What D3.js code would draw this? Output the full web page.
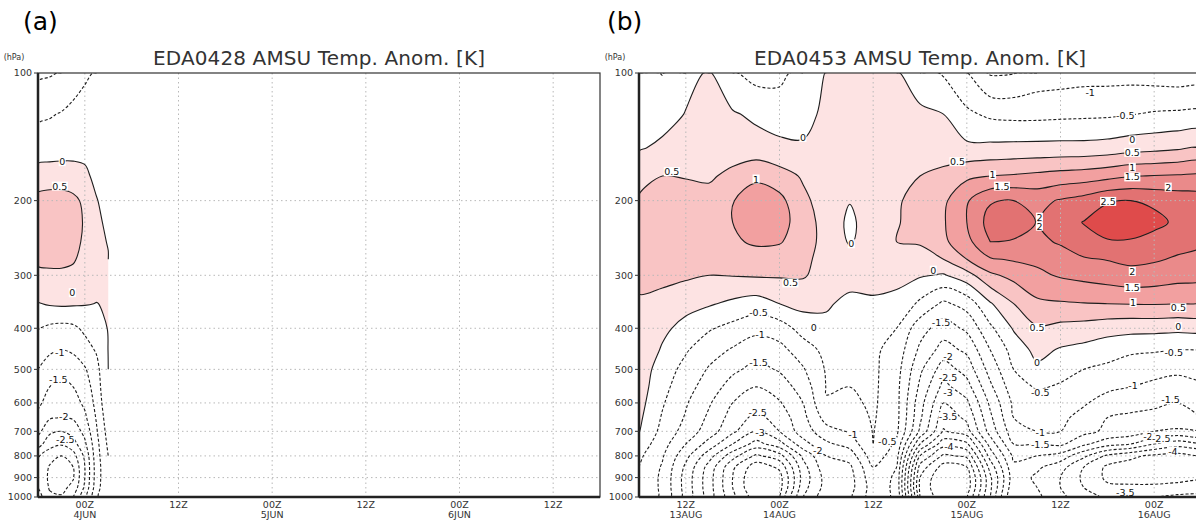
<!DOCTYPE html>
<html>
<head>
<meta charset="utf-8">
<script src="https://cdn.jsdelivr.net/npm/d3@7"></script>
<style>
body { margin: 0; background: #fff; }
svg { display: block; }
text { font-family: "DejaVu Sans", "Liberation Sans", sans-serif; }
</style>
</head>
<body>
<svg id="chart" width="1196" height="521"></svg>
<script>
'use strict';

// pressure levels (hPa) of the grid rows, top to bottom
const LEVELS = [100, 125, 150, 175, 200, 225, 250, 275, 300, 350, 400, 450, 500, 550, 600, 650, 700, 750, 800, 850, 900, 950, 1000];
const P_TICKS = [100, 200, 300, 400, 500, 600, 700, 800, 900, 1000];
const TICK_HOURS = [6, 18, 30, 42, 54, 66];

// shaded bands (value >= level) and contour levels
const FILL_LEVELS = [0, 0.5, 1, 1.5, 2, 2.5];
const FILL_COLORS = ['#fde3e3', '#f9c4c4', '#f2a0a0', '#ea8a8a', '#e27272', '#df4b4b'];
const LINE_LEVELS = [-6.5, -6, -5.5, -5, -4.5, -4, -3.5, -3, -2.5, -2, -1.5, -1, -0.5, 0, 0.5, 1, 1.5, 2, 2.5];

// ---- panel (a): hours after 18Z 3JUN
const A_HOURS = [0, 1.5, 3, 4.5, 6, 7.5, 9];
const A_FIELD = [
	[-1.1, -1.05, -0.97, -0.8, -0.6, -0.45, -0.35],
	[-0.6, -0.54, -0.47, -0.35, -0.25, -0.2, -0.15],
	[-0.25, -0.25, -0.22, -0.18, -0.12, -0.08, -0.05],
	[0.2, 0.25, 0.25, 0.2, 0.08, -0.1, -0.2],
	[0.65, 0.7, 0.7, 0.62, 0.4, 0.02, -0.15],
	[0.75, 0.8, 0.78, 0.7, 0.45, 0.1, -0.1],
	[0.75, 0.75, 0.72, 0.65, 0.42, 0.15, -0.03],
	[0.58, 0.6, 0.6, 0.55, 0.35, 0.2, 0.03],
	[0.4, 0.42, 0.42, 0.38, 0.28, 0.2, 0.1],
	[-0.03, 0.05, 0.08, 0.06, 0.03, -0.01, 0.05],
	[-0.48, -0.6, -0.65, -0.6, -0.4, -0.2, 0.02],
	[-0.8, -0.92, -1.0, -0.92, -0.7, -0.45, 0.01],
	[-1.0, -1.25, -1.4, -1.3, -1.05, -0.65, 0.0],
	[-1.2, -1.5, -1.6, -1.5, -1.25, -0.75, -0.02],
	[-1.4, -1.7, -1.8, -1.7, -1.4, -0.85, -0.08],
	[-1.65, -1.95, -2.02, -1.95, -1.6, -0.95, -0.2],
	[-1.85, -2.4, -2.5, -2.3, -1.85, -1.05, -0.3],
	[-2.3, -2.8, -2.95, -2.7, -2.1, -1.15, -0.4],
	[-2.95, -3.3, -3.5, -3.2, -2.4, -1.2, -0.5],
	[-3.05, -3.55, -3.7, -3.5, -2.5, -1.25, -0.55],
	[-3.1, -3.6, -3.75, -3.55, -2.5, -1.25, -0.55],
	[-3.0, -3.55, -3.65, -3.35, -2.4, -1.2, -0.55],
	[-2.8, -3.4, -3.45, -3.0, -2.2, -1.1, -0.5]
];
const A_TICK_LABELS = [['00Z', '4JUN'], ['12Z', ''], ['00Z', '5JUN'], ['12Z', ''], ['00Z', '6JUN'], ['12Z', '']];
// contour labels: [hour, hPa, text]
const A_LABELS = [
	[3.1, 162, '0'], [2.8, 185, '0.5'], [4.4, 330, '0'], [2.8, 457, '-1'],
	[2.6, 530, '-1.5'], [3.3, 647, '-2'], [3.5, 734, '-2.5']
];

// ---- panel (b): hours after 06Z 13AUG
const B_HOURS = [0, 3, 6, 9, 12, 15, 18, 21, 24, 27, 30, 33, 36, 39, 42, 45, 48, 51, 54, 57, 60, 63, 66, 69, 72];
const B_FIELD = [
	[-0.35, -0.52, -0.15, 0.05, -0.45, -0.68, -0.65, -0.3, 0.02, 0.15, 0.12, 0.05, -0.3, -0.55, -0.98, -1.55, -1.52, -1.3, -1.25, -1.2, -1.2, -1.2, -1.25, -1.3, -1.3],
	[-0.3, -0.2, 0.02, 0.1, 0.05, -0.1, -0.2, -0.15, 0.1, 0.2, 0.22, 0.2, 0.1, 0.0, -0.4, -0.6, -0.65, -0.65, -0.62, -0.6, -0.58, -0.52, -0.45, -0.42, -0.4],
	[-0.05, 0.1, 0.2, 0.25, 0.2, 0.2, 0.1, 0.05, 0.2, 0.28, 0.3, 0.3, 0.3, 0.2, 0.1, 0.12, 0.14, 0.15, 0.16, 0.16, 0.2, 0.3, 0.35, 0.42, 0.48],
	[0.35, 0.5, 0.48, 0.42, 0.65, 0.9, 0.7, 0.45, 0.3, 0.2, 0.25, 0.4, 0.5, 0.65, 0.9, 1.0, 1.05, 1.12, 1.2, 1.25, 1.35, 1.48, 1.52, 1.55, 1.57],
	[0.55, 0.6, 0.65, 0.7, 0.98, 1.25, 1.15, 0.6, 0.3, 0.02, 0.3, 0.45, 0.65, 0.9, 1.45, 1.95, 2.0, 1.85, 2.05, 2.2, 2.45, 2.5, 2.4, 2.3, 2.2],
	[0.65, 0.7, 0.75, 0.8, 1.0, 1.3, 1.2, 0.75, 0.3, -0.1, 0.25, 0.45, 0.75, 0.95, 1.5, 2.2, 2.3, 1.98, 2.3, 2.52, 2.8, 2.8, 2.65, 2.4, 2.3],
	[0.7, 0.7, 0.72, 0.78, 0.9, 1.1, 1.05, 0.7, 0.35, -0.05, 0.25, 0.5, 0.55, 0.9, 1.35, 2.0, 1.95, 1.9, 2.05, 2.35, 2.45, 2.45, 2.3, 2.15, 2.05],
	[0.65, 0.6, 0.6, 0.6, 0.65, 0.7, 0.7, 0.6, 0.35, 0.2, 0.25, 0.35, 0.3, 0.5, 1.0, 1.45, 1.55, 1.6, 1.8, 1.95, 2.02, 2.1, 2.05, 1.95, 1.9],
	[0.6, 0.62, 0.58, 0.5, 0.52, 0.55, 0.55, 0.55, 0.3, 0.15, 0.12, 0.1, 0.05, -0.05, 0.3, 0.9, 1.15, 1.4, 1.55, 1.65, 1.75, 1.85, 1.8, 1.7, 1.65],
	[0.45, 0.35, 0.15, 0.05, -0.1, -0.22, 0.0, 0.15, 0.05, -0.1, -0.05, -0.1, -0.6, -1.1, -0.8, -0.05, 0.5, 0.9, 0.95, 0.98, 1.0, 1.02, 1.03, 1.0, 0.95],
	[0.4, 0.1, -0.15, -0.45, -0.65, -0.85, -0.75, -0.3, -0.1, -0.3, -0.35, -0.5, -1.3, -1.75, -1.4, -0.6, 0.05, 0.45, 0.35, 0.3, 0.2, 0.15, 0.15, 0.12, 0.12],
	[0.35, -0.05, -0.45, -0.8, -1.05, -1.3, -1.15, -0.75, -0.35, -0.4, -0.4, -0.7, -1.6, -2.2, -1.9, -1.0, -0.3, 0.15, -0.05, -0.15, -0.3, -0.4, -0.45, -0.5, -0.5],
	[0.3, -0.25, -0.65, -1.05, -1.4, -1.65, -1.45, -1.05, -0.45, -0.45, -0.4, -0.8, -1.9, -2.75, -2.3, -1.3, -0.5, -0.1, -0.35, -0.5, -0.6, -0.8, -0.85, -0.9, -0.85],
	[0.25, -0.35, -0.8, -1.25, -1.7, -2.0, -1.75, -1.3, -0.48, -0.5, -0.4, -0.85, -2.1, -3.15, -2.7, -1.6, -0.7, -0.45, -0.55, -0.75, -0.9, -1.0, -1.1, -1.2, -1.1],
	[0.18, -0.45, -0.95, -1.45, -2.0, -2.35, -2.05, -1.5, -0.52, -0.6, -0.42, -0.85, -2.3, -3.5, -3.1, -1.9, -0.9, -0.7, -0.75, -0.95, -1.2, -1.3, -1.4, -1.5, -1.4],
	[0.1, -0.55, -1.05, -1.6, -2.2, -2.65, -2.3, -1.65, -0.8, -0.75, -0.45, -0.85, -2.4, -3.8, -3.4, -2.1, -1.0, -0.85, -0.9, -1.15, -1.5, -1.6, -1.65, -1.6, -1.5],
	[0.02, -0.65, -1.2, -1.75, -2.4, -3.0, -2.5, -1.75, -1.2, -0.95, -0.48, -0.9, -2.6, -4.05, -3.7, -2.3, -1.2, -1.0, -1.0, -1.35, -1.6, -1.7, -2.0, -2.1, -2.0],
	[-0.2, -0.8, -1.5, -2.2, -3.0, -3.7, -3.2, -2.2, -1.6, -1.3, -0.5, -1.1, -3.5, -4.8, -4.6, -2.8, -1.5, -1.5, -1.4, -1.9, -2.3, -2.5, -3.0, -3.3, -3.2],
	[-0.4, -0.95, -1.85, -2.8, -3.8, -4.6, -4.2, -2.9, -2.0, -1.8, -0.7, -1.3, -4.5, -5.6, -5.4, -3.3, -1.9, -2.0, -2.2, -2.9, -3.6, -3.9, -4.1, -4.2, -4.1],
	[-0.5, -1.05, -2.1, -3.2, -4.4, -5.3, -4.9, -3.2, -2.15, -2.1, -1.0, -1.5, -5.2, -6.2, -6.0, -3.8, -2.1, -2.4, -2.8, -3.5, -4.1, -4.2, -4.3, -4.3, -4.2],
	[-0.55, -1.1, -2.2, -3.3, -4.5, -5.5, -5.2, -3.3, -2.3, -2.2, -1.15, -1.6, -5.5, -6.5, -6.3, -4.1, -2.2, -2.6, -3.0, -3.6, -4.1, -4.2, -4.2, -4.2, -4.1],
	[-0.55, -1.1, -2.2, -3.3, -4.5, -5.5, -5.2, -3.2, -2.3, -2.2, -1.25, -1.6, -5.6, -6.5, -6.3, -4.1, -2.1, -2.5, -3.0, -3.5, -3.9, -3.9, -3.9, -3.8, -3.8],
	[-0.55, -1.1, -2.2, -3.3, -4.4, -5.3, -5.0, -3.0, -2.2, -2.1, -1.25, -1.6, -5.5, -6.4, -6.1, -4.0, -2.0, -2.4, -2.9, -3.3, -3.6, -3.5, -3.5, -3.4, -3.4]
];
const B_TICK_LABELS = [['12Z', '13AUG'], ['00Z', '14AUG'], ['12Z', ''], ['00Z', '15AUG'], ['12Z', ''], ['00Z', '16AUG']];
const B_LABELS = [
	[21.0, 142, '0'], [4.2, 171, '0.5'], [15, 178, '1'], [27.2, 253, '0'], [19.4, 313, '0.5'],
	[22.4, 399, '0'], [37.7, 292, '0'], [40.8, 162, '0.5'], [45.3, 174, '1'], [46.5, 185, '1.5'],
	[51.3, 219, '2'], [51.3, 230, '2'], [60.1, 201, '2.5'], [67.8, 186, '2'],
	[63.2, 144, '0'], [63.2, 154, '0.5'], [63.2, 167, '1'], [63.2, 176, '1.5'],
	[62.3, 126, '-0.5'], [57.8, 111, '-1'],
	[63.2, 294, '2'], [63.2, 321, '1.5'], [63.3, 348, '1'], [51, 399, '0.5'], [69.1, 358, '0.5'],
	[69.1, 397, '0'], [51, 481, '0'], [68.5, 457, '-0.5'], [51.4, 569, '-0.5'], [63.3, 545, '-1'],
	[68.1, 590, '-1.5'], [51.4, 706, '-1'], [51.4, 754, '-1.5'], [65.2, 720, '-2'], [66.9, 730, '-2.5'],
	[68.4, 780, '-4'], [62.3, 977, '-3.5'],
	[38.7, 389, '-1.5'], [39.6, 466, '-2'], [39.6, 523, '-2.5'], [39.6, 568, '-3'], [39.6, 647, '-3.5'], [39.7, 761, '-4'],
	[31.8, 741, '-0.5'], [27.4, 714, '-1'], [22.9, 779, '-2'],
	[15.3, 368, '-0.5'], [15.5, 415, '-1'], [15.3, 481, '-1.5'], [15.2, 631, '-2.5'], [15.5, 706, '-3']
];

const W = 562, TOP = 73, BOTTOM = 497;
const PANELS = [
	{ x0: 38, tagX: 23, tag: '(a)', title: 'EDA0428 AMSU Temp. Anom. [K]', hours: A_HOURS, field: A_FIELD, tickLabels: A_TICK_LABELS, labels: A_LABELS },
	{ x0: 639, tagX: 607, tag: '(b)', title: 'EDA0453 AMSU Temp. Anom. [K]', hours: B_HOURS, field: B_FIELD, tickLabels: B_TICK_LABELS, labels: B_LABELS }
];

const svg = d3.select('#chart');
const closedCurve = d3.line().curve(d3.curveCatmullRomClosed.alpha(0.5));
const openCurve = d3.line().curve(d3.curveCatmullRom.alpha(0.5));

function dedupe(pts) {
	return pts.filter((p, i) => i === 0 || Math.abs(p[0] - pts[i - 1][0]) > 0.01 || Math.abs(p[1] - pts[i - 1][1]) > 0.01);
}

// split a contour ring into runs that skip the grid border
function ringRuns(ring, dx, dy) {
	let pts = ring.slice();
	let f = pts[0], l = pts[pts.length - 1];
	if (f[0] === l[0] && f[1] === l[1]) pts.pop();
	let n = pts.length;
	let onB = (a, b) => (a[0] === 0 && b[0] === 0) || (a[0] === dx && b[0] === dx) ||
		(a[1] === 0 && b[1] === 0) || (a[1] === dy && b[1] === dy);
	let edgeB = pts.map((p, i) => onB(p, pts[(i + 1) % n]));
	if (!edgeB.some(Boolean)) return { closed: true, runs: [pts] };
	let start = edgeB.indexOf(true), runs = [], cur = null;
	for (let k = 1; k <= n; k += 1) {
		let i = (start + k) % n;
		if (edgeB[i]) {
			if (cur) { runs.push(cur); cur = null; }
		} else {
			if (!cur) cur = [pts[i]];
			cur.push(pts[(i + 1) % n]);
		}
	}
	if (cur) runs.push(cur);
	return { closed: false, runs };
}

PANELS.forEach((o, pi) => {
	let x = d3.scaleLinear().domain([0, 72]).range([o.x0, o.x0 + W]),
		y = d3.scaleLog().domain([100, 1000]).range([TOP, BOTTOM]);
	let dx = o.hours.length, dy = LEVELS.length;
	let values = o.field.flat();

	// grid index space -> pixels
	let toPx = ([u, v]) => {
		let c = Math.max(0, Math.min(dx - 1, u - 0.5)),
			r = Math.max(0, Math.min(dy - 1, v - 0.5));
		let c0 = Math.min(Math.floor(c), dx - 2), r0 = Math.min(Math.floor(r), dy - 2);
		let h = o.hours[c0] + (c - c0) * (o.hours[c0 + 1] - o.hours[c0]);
		let lp = Math.log(LEVELS[r0]) + (r - r0) * (Math.log(LEVELS[r0 + 1]) - Math.log(LEVELS[r0]));
		return [x(h), y(Math.exp(lp))];
	};

	let g = svg.append('g');
	let clipId = `clip-${pi}`;
	svg.append('clipPath').attr('id', clipId).append('rect')
		.attr('x', o.x0).attr('y', TOP).attr('width', W).attr('height', BOTTOM - TOP);

	// shading
	let fills = d3.contours().size([dx, dy]).thresholds(FILL_LEVELS)(values);
	g.append('g').attr('clip-path', `url(#${clipId})`)
		.selectAll('path').data(fills).join('path')
		.attr('fill', (d, i) => FILL_COLORS[i])
		.attr('fill-rule', 'evenodd')
		.attr('d', d => d.coordinates.map(poly => poly.map(ring => closedCurve(dedupe(ring.map(toPx)))).join('')).join(''));

	// grid
	let grid = g.append('g').attr('stroke', '#b8b8b8').attr('stroke-width', 1).attr('stroke-dasharray', '1.5,3');
	grid.selectAll('.gx').data(TICK_HOURS).join('line')
		.attr('x1', d => x(d)).attr('x2', d => x(d)).attr('y1', TOP).attr('y2', BOTTOM);
	grid.selectAll('.gy').data(P_TICKS.slice(1, -1)).join('line')
		.attr('x1', o.x0).attr('x2', o.x0 + W).attr('y1', d => y(d)).attr('y2', d => y(d));

	// contour lines
	let lines = d3.contours().size([dx, dy]).thresholds(LINE_LEVELS)(values);
	let lg = g.append('g').attr('clip-path', `url(#${clipId})`).attr('fill', 'none').attr('stroke', '#1e1e1e').attr('stroke-width', 1.1);
	lines.forEach(c => {
		let dash = c.value < 0 ? '3,2' : null;
		c.coordinates.forEach(poly => poly.forEach(ring => {
			let rr = ringRuns(ring, dx, dy);
			rr.runs.forEach(run => {
				let pts = dedupe(run.map(toPx));
				if (pts.length < 2) return;
				lg.append('path')
					.attr('stroke-dasharray', dash)
					.attr('d', rr.closed ? closedCurve(pts) : openCurve(pts));
			});
		}));
	});

	// contour labels
	let lab = g.append('g').selectAll('g').data(o.labels).join('g')
		.attr('transform', d => `translate(${x(d[0])},${y(d[1])})`);
	lab.append('text').text(d => d[2])
		.attr('text-anchor', 'middle').attr('dy', '0.35em')
		.attr('font-size', 9.5).attr('fill', '#111');
	lab.each(function () {
		let b = d3.select(this).select('text').node().getBBox();
		d3.select(this).insert('rect', 'text')
			.attr('x', b.x - 0.5).attr('y', b.y + 1).attr('width', b.width + 1).attr('height', b.height - 2)
			.attr('fill', '#fff');
	});

	// frame
	g.append('rect').attr('x', o.x0).attr('y', TOP).attr('width', W).attr('height', BOTTOM - TOP)
		.attr('fill', 'none').attr('stroke', '#333').attr('stroke-width', 1.2);
	g.append('line').attr('x1', o.x0).attr('x2', o.x0).attr('y1', TOP).attr('y2', BOTTOM)
		.attr('stroke', '#222').attr('stroke-width', 2.5);
	g.append('line').attr('x1', o.x0).attr('x2', o.x0 + W).attr('y1', BOTTOM).attr('y2', BOTTOM)
		.attr('stroke', '#222').attr('stroke-width', 2.5);

	// y axis
	let ya = g.append('g').selectAll('g').data(P_TICKS).join('g');
	ya.append('line').attr('x1', o.x0 - 4).attr('x2', o.x0).attr('y1', d => y(d)).attr('y2', d => y(d))
		.attr('stroke', '#333');
	ya.append('text').attr('x', o.x0 - 6).attr('y', d => y(d)).attr('dy', '0.35em')
		.attr('text-anchor', 'end').attr('font-size', 9.5).attr('fill', '#333').text(d => d);
	g.append('text').attr('x', o.x0 - 24).attr('y', 60).attr('text-anchor', 'middle')
		.attr('font-size', 8).attr('fill', '#333').text('(hPa)');

	// x axis
	let xa = g.append('g').selectAll('g').data(TICK_HOURS).join('g');
	xa.append('text').attr('x', d => x(d)).attr('y', 508).attr('text-anchor', 'middle')
		.attr('font-size', 9.5).attr('fill', '#333').text((d, i) => o.tickLabels[i][0]);
	xa.append('text').attr('x', d => x(d)).attr('y', 518).attr('text-anchor', 'middle')
		.attr('font-size', 9.5).attr('fill', '#333').text((d, i) => o.tickLabels[i][1]);

	// titles
	g.append('text').attr('x', o.x0 + W / 2).attr('y', 65).attr('text-anchor', 'middle')
		.attr('font-size', 20).attr('fill', '#333').attr('textLength', 332).attr('lengthAdjust', 'spacing')
		.text(o.title);
	g.append('text').attr('x', o.tagX).attr('y', 30)
		.attr('font-family', '"Liberation Serif", "DejaVu Serif", serif').attr('font-size', 25).attr('fill', '#000')
		.text(o.tag);
});
</script>
</body>
</html>
